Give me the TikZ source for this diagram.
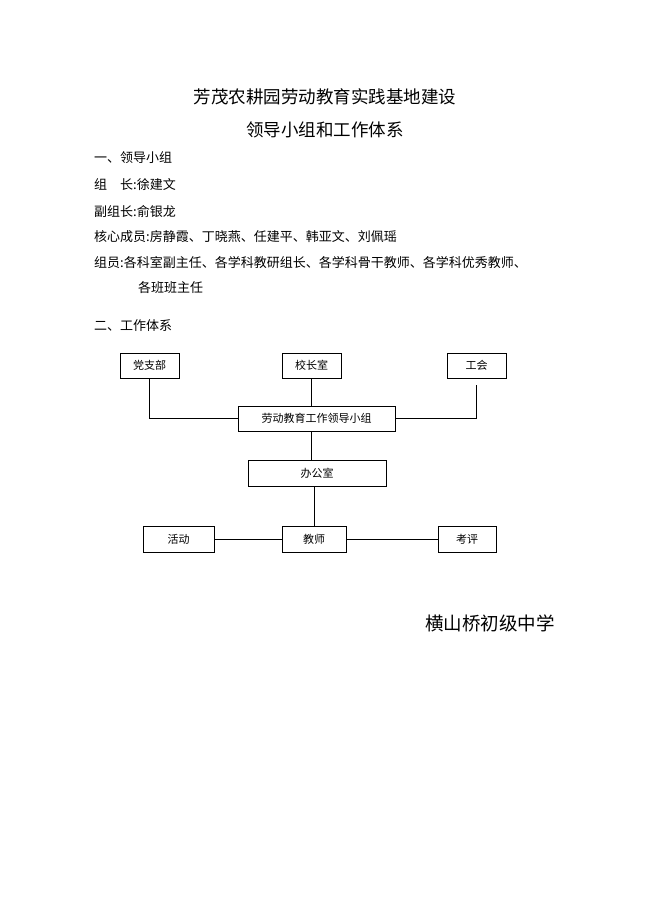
\documentclass[tikz,border=0pt]{standalone}
\usepackage{fontspec}
\newfontfamily\cjk{Noto Sans CJK SC}
\usetikzlibrary{positioning}
\tikzset{
  orgbox/.style={draw, thick, minimum height=25pt, inner sep=0pt, font=\cjk\fontsize{11}{11}\selectfont},
  para/.style={anchor=west, inner sep=0pt, font=\cjk\fontsize{13}{13}\selectfont},
  link/.style={thick}
}
\begin{document}
\begin{tikzpicture}[x=1pt,y=-1pt]
    \useasboundingbox (0,0) rectangle (650,919);

    % Titles
    \node[font=\cjk\fontsize{17.5}{17.5}\selectfont] (title1) at (325,97) {芳茂农耕园劳动教育实践基地建设};
    \node[font=\cjk\fontsize{17.5}{17.5}\selectfont] (title2) at (325,130) {领导小组和工作体系};

    % Text block
    \node[para] (p1) at (94,158) {一、领导小组};
    \node[para] (p2) at (94,185) {组\quad 长:徐建文};
    \node[para] (p3) at (94,211) {副组长:俞银龙};
    \node[para] (p4) at (94,237) {核心成员:房静霞、丁晓燕、任建平、韩亚文、刘佩瑶};
    \node[para] (p5) at (94,263) {组员:各科室副主任、各学科教研组长、各学科骨干教师、各学科优秀教师、};
    \node[para] (p6) at (138,288) {各班班主任};
    \node[para] (p7) at (94,326) {二、工作体系};

    % Chart boxes
    \node[orgbox, minimum width=59pt] (party) at (149.5,365.5) {党支部};
    \node[orgbox, minimum width=59pt] (head) at (311.5,365.5) {校长室};
    \node[orgbox, minimum width=59pt] (union) at (476.5,365.5) {工会};
    \node[orgbox, minimum width=157pt] (group) at (316.5,418.5) {劳动教育工作领导小组};
    \node[orgbox, minimum width=138pt, minimum height=26pt] (office) at (317,473) {办公室};
    \node[orgbox, minimum width=71pt, minimum height=26pt] (act) at (178.5,539) {活动};
    \node[orgbox, minimum width=64pt, minimum height=26pt] (teach) at (314,539) {教师};
    \node[orgbox, minimum width=58pt, minimum height=26pt] (eval) at (467,539) {考评};
    \coordinate (unionend) at (476,385);

    % Connectors
    \draw[link] (party.south) |- (group.west);
    \draw[link] (unionend) |- (group.east);
    \draw[link] (head.south) -- (head.south |- group.north);
    \draw[link] (group.south -| head) -- (office.north -| head);
    \draw[link] (office.south -| teach) -- (teach.north);
    \draw[link] (act) -- (teach);
    \draw[link] (teach) -- (eval);

    % School name
    \node[font=\cjk\fontsize{18.5}{18.5}\selectfont] (school) at (490,623) {横山桥初级中学};

\end{tikzpicture}
\end{document}
